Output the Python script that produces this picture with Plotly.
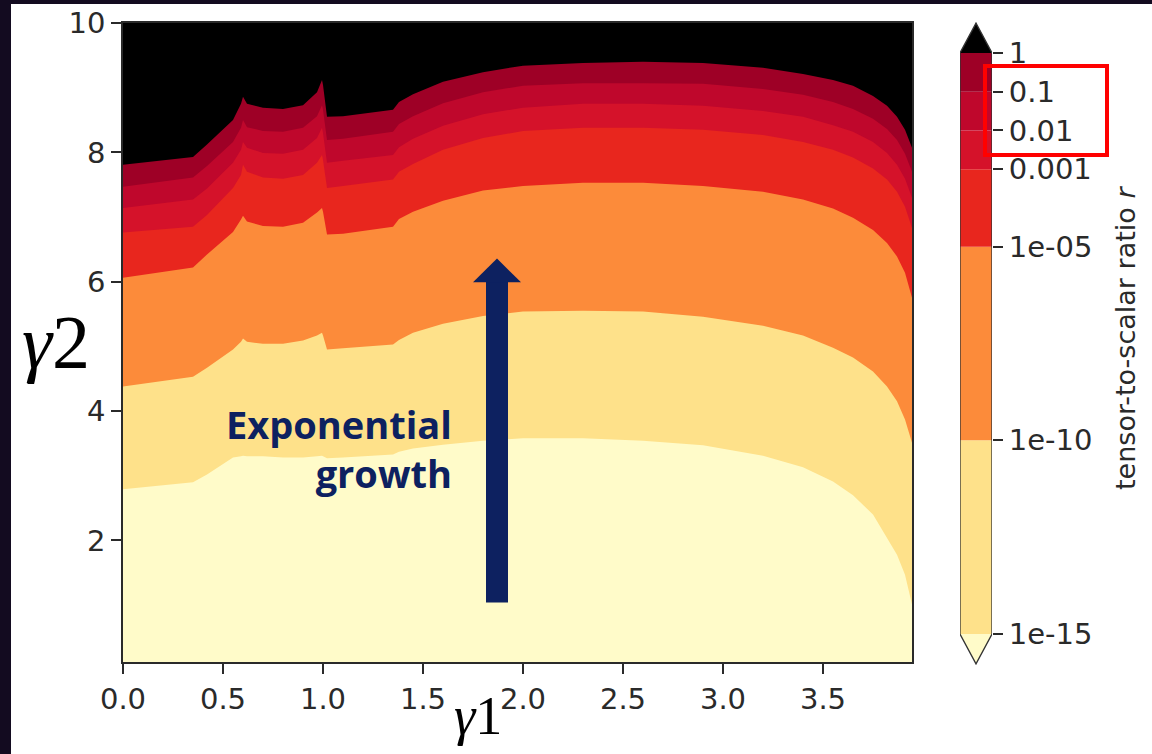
import plotly.graph_objects as go

# ---------------- data ----------------
gamma1 = [0.0, 0.35, 0.42, 0.55, 0.59, 0.60, 0.62, 0.70, 0.80, 0.90, 0.97, 0.995, 1.0, 1.02,
          1.10, 1.35, 1.38, 1.45, 1.60, 1.80, 2.00, 2.30, 2.60, 2.90, 3.20, 3.40, 3.55,
          3.65, 3.75, 3.82, 3.87, 3.91, 3.945]

# gamma2 height of each contour level r = 10^k along gamma1
gamma2_r_1e0 = [7.81, 7.93, 8.12, 8.50, 8.75, 8.86, 8.75, 8.69, 8.67, 8.73, 8.93, 9.12, 9.04, 8.55,
                8.56, 8.66, 8.78, 8.90, 9.09, 9.24, 9.34, 9.38, 9.40, 9.38, 9.31, 9.21, 9.12,
                9.03, 8.87, 8.72, 8.55, 8.35, 8.07]
gamma2_r_1em1 = [7.47, 7.61, 7.79, 8.16, 8.38, 8.50, 8.39, 8.33, 8.32, 8.38, 8.56, 8.73, 8.66, 8.19,
                 8.21, 8.32, 8.44, 8.56, 8.76, 8.93, 9.03, 9.07, 9.07, 9.06, 8.98, 8.89, 8.78,
                 8.67, 8.52, 8.36, 8.19, 7.98, 7.70]
gamma2_r_1em2 = [7.14, 7.27, 7.44, 7.84, 8.04, 8.16, 8.07, 7.99, 7.98, 8.04, 8.22, 8.38, 8.30, 7.84,
                 7.87, 7.96, 8.08, 8.21, 8.41, 8.59, 8.69, 8.75, 8.75, 8.72, 8.64, 8.55, 8.42,
                 8.32, 8.16, 7.99, 7.81, 7.59, 7.30]
gamma2_r_1em3 = [6.76, 6.85, 7.03, 7.45, 7.65, 7.81, 7.70, 7.61, 7.59, 7.65, 7.84, 7.96, 7.88, 7.45,
                 7.48, 7.58, 7.70, 7.82, 8.04, 8.22, 8.33, 8.38, 8.38, 8.35, 8.27, 8.16, 8.04,
                 7.92, 7.75, 7.58, 7.39, 7.16, 6.83]
gamma2_r_1em5 = [6.06, 6.22, 6.42, 6.77, 6.96, 7.02, 6.93, 6.86, 6.85, 6.91, 7.07, 7.14, 7.08, 6.73,
                 6.74, 6.85, 6.97, 7.08, 7.25, 7.41, 7.48, 7.53, 7.53, 7.48, 7.39, 7.27, 7.13,
                 6.99, 6.80, 6.60, 6.39, 6.14, 5.75]
gamma2_r_1em10 = [4.38, 4.53, 4.67, 4.95, 5.07, 5.12, 5.07, 5.04, 5.04, 5.09, 5.17, 5.21, 5.17, 4.95,
                  4.97, 5.03, 5.10, 5.21, 5.35, 5.47, 5.54, 5.55, 5.54, 5.46, 5.32, 5.17, 4.98,
                  4.83, 4.61, 4.38, 4.15, 3.87, 3.51]
gamma2_r_1em15 = [2.79, 2.90, 3.02, 3.28, 3.30, 3.31, 3.30, 3.30, 3.28, 3.28, 3.30, 3.31, 3.30, 3.27,
                  3.28, 3.33, 3.37, 3.42, 3.48, 3.54, 3.58, 3.58, 3.54, 3.47, 3.31, 3.13, 2.91,
                  2.70, 2.40, 2.05, 1.78, 1.47, 1.01]

# colour bar: log10(r) level boundaries, tick labels and band colours
levels_log10 = [-15, -10, -5, -3, -2, -1, 0]
level_labels = ["1e-15", "1e-10", "1e-05", "0.001", "0.01", "0.1", "1"]
band_colors = ["#fee18a", "#fc8b3a", "#e8261e", "#d5122a", "#bf072c", "#9e0026"]  # between levels
under_color = "#fffbc9"
over_color = "#000000"

x_ticks = [0.0, 0.5, 1.0, 1.5, 2.0, 2.5, 3.0, 3.5]
y_ticks = [2, 4, 6, 8, 10]

# ---------------- figure ----------------
W, H = 1152, 754
ML, MR, MT, MB = 123, 160, 22, 89
PW, PH = W - ML - MR, H - MT - MB
NAVY = "#0d2160"
TXT = "#2a2a2a"
DARK = "#130b20"
TICKFONT = dict(family="DejaVu Sans", size=29, color=TXT)


def px_x(px):
    return (px - ML) / PW


def px_y(py):
    return (H - MB - py) / PH


fig = go.Figure()

# filled bands (stacked from the top level downwards)
boundaries = [gamma2_r_1e0, gamma2_r_1em1, gamma2_r_1em2, gamma2_r_1em3,
              gamma2_r_1em5, gamma2_r_1em10, gamma2_r_1em15]
fill_colors = band_colors[::-1] + [under_color]
for yb, col in zip(boundaries, fill_colors):
    fig.add_trace(go.Scatter(x=gamma1, y=yb, mode="lines", fill="tozeroy",
                             fillcolor=col, line=dict(width=0, color=col),
                             hoverinfo="skip", showlegend=False))

# colour bar bands
fig.add_trace(go.Bar(x=[0] * (len(levels_log10) - 1),
                     y=[levels_log10[i + 1] - levels_log10[i] for i in range(len(levels_log10) - 1)],
                     base=levels_log10[:-1], width=1, marker=dict(color=band_colors, line=dict(width=0)),
                     xaxis="x2", yaxis="y2", hoverinfo="skip", showlegend=False))

ext = 0.772
lo, hi = levels_log10[0], levels_log10[-1]
shapes = [
    # dark slide background strips (left and top)
    dict(type="rect", xref="paper", yref="paper", x0=px_x(-5), x1=px_x(11), y0=px_y(H + 5), y1=px_y(-5),
         fillcolor=DARK, line=dict(width=0), layer="below"),
    dict(type="rect", xref="paper", yref="paper", x0=px_x(-5), x1=px_x(W + 5), y0=px_y(4), y1=px_y(-5),
         fillcolor=DARK, line=dict(width=0), layer="below"),
    dict(type="rect", xref="x domain", yref="y domain", x0=0, x1=1, y0=0, y1=1,
         fillcolor=over_color, line=dict(width=0), layer="below"),
    dict(type="path", xref="x2", yref="y2", path=f"M -0.5,{hi} L 0,{hi + ext} L 0.5,{hi} Z",
         fillcolor=over_color, line=dict(width=0)),
    dict(type="path", xref="x2", yref="y2", path=f"M -0.5,{lo} L 0,{lo - ext} L 0.5,{lo} Z",
         fillcolor=under_color, line=dict(width=0)),
    dict(type="path", xref="x2", yref="y2",
         path=f"M -0.5,{lo} L -0.5,{hi} L 0,{hi + ext} L 0.5,{hi} L 0.5,{lo} L 0,{lo - ext} Z",
         fillcolor="rgba(0,0,0,0)", line=dict(color="#333333", width=1.3)),
    # arrow
    dict(type="rect", xref="x", yref="y", x0=1.815, x1=1.925, y0=1.04, y1=6.0,
         fillcolor=NAVY, line=dict(width=0)),
    dict(type="path", xref="x", yref="y", path="M 1.75,5.99 L 1.87,6.36 L 1.99,5.99 Z",
         fillcolor=NAVY, line=dict(width=0)),
    # red highlight box
    dict(type="rect", xref="paper", yref="paper", x0=px_x(985), x1=px_x(1107), y0=px_y(155), y1=px_y(66),
         fillcolor="rgba(0,0,0,0)", line=dict(color="#ff0000", width=4)),
]

annotations = [
    dict(text="Exponential<br>growth", xref="x", yref="y", x=1.655, y=3.42, xanchor="right",
         yanchor="middle", align="right", showarrow=False,
         font=dict(family="Open Sans", size=38, color=NAVY, weight="bold")),
    dict(text="<i>γ</i>2", xref="paper", yref="paper", x=px_x(56), y=px_y(342), showarrow=False,
         xanchor="center", yanchor="middle", font=dict(family="Liberation Serif", size=76, color="black")),
    dict(text="<i>γ</i>1", xref="paper", yref="paper", x=px_x(478), y=px_y(716), showarrow=False,
         xanchor="center", yanchor="middle", font=dict(family="Liberation Serif", size=54, color="black")),
    dict(text="tensor-to-scalar ratio <i>r</i>", xref="paper", yref="paper", x=px_x(1125), y=px_y(338),
         textangle=-90, showarrow=False, xanchor="center", yanchor="middle",
         font=dict(family="DejaVu Sans", size=27, color=TXT)),
]

fig.update_layout(
    template="none",
    width=W, height=H, margin=dict(l=ML, r=MR, t=MT, b=MB, pad=0, autoexpand=False),
    paper_bgcolor="white", plot_bgcolor="rgba(0,0,0,0)",
    barmode="overlay", showlegend=False,
    shapes=shapes, annotations=annotations,
    xaxis=dict(domain=[0, px_x(912)], range=[0, 3.945], tickvals=x_ticks, tickformat=".1f",
               ticks="outside", ticklen=10, tickwidth=1.5, tickcolor=TXT, tickfont=TICKFONT,
               showline=True, mirror=True, linecolor=TXT, linewidth=1.5, showgrid=False, zeroline=False,
               anchor="y", automargin=False),
    yaxis=dict(domain=[px_y(662), px_y(23)], range=[0.12, 10], tickvals=y_ticks,
               ticks="outside", ticklen=10, tickwidth=1.5, tickcolor=TXT, tickfont=TICKFONT,
               showline=True, mirror=True, linecolor=TXT, linewidth=1.5, showgrid=False, zeroline=False,
               anchor="x", automargin=False),
    xaxis2=dict(domain=[px_x(960), px_x(992)], range=[-0.5, 0.5], visible=False, anchor="y2",
                automargin=False),
    yaxis2=dict(domain=[0, 1], range=[lo - 0.8, hi + 0.8], side="right", anchor="x2",
                tickvals=levels_log10, ticktext=level_labels, ticks="outside", ticklen=10,
                tickwidth=1.5, tickcolor=TXT, tickfont=TICKFONT, showgrid=False, zeroline=False,
                showline=False, automargin=False),
)

fig.write_html("out.html")
